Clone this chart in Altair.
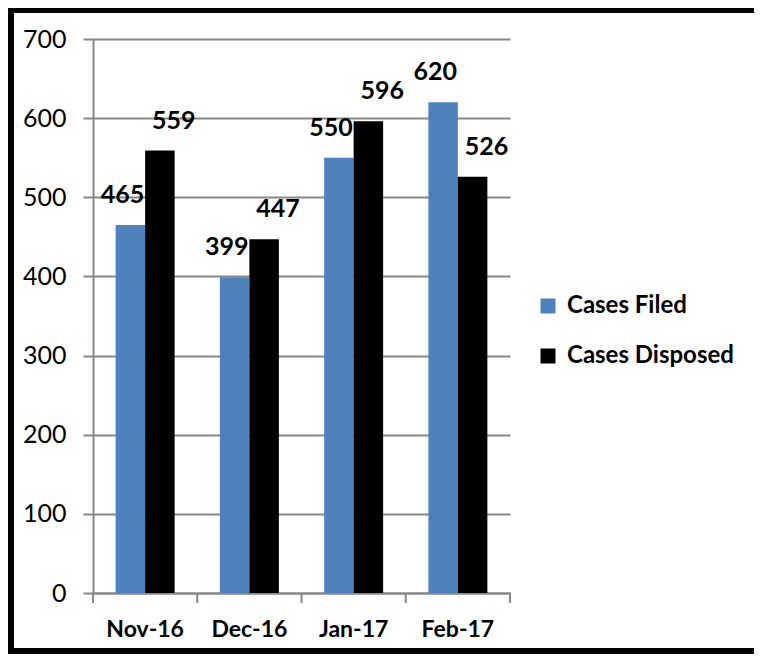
import altair as alt
import pandas as pd

months = ["Nov-16", "Dec-16", "Jan-17", "Feb-17"]
series = ["Cases Filed", "Cases Disposed"]
filed = [465, 399, 550, 620]
disposed = [559, 447, 596, 526]
y_ticks = [0, 100, 200, 300, 400, 500, 600, 700]
colors = ["#4F81BD", "#000000"]

rows = []
for m, f, d in zip(months, filed, disposed):
    rows.append({"month": m, "series": series[0], "value": f})
    rows.append({"month": m, "series": series[1], "value": d})
df = pd.DataFrame(rows)

W, H = 417, 554
GRAY = "#878787"
FONT = "Lato"

x_enc = alt.X("month:N", sort=months,
              scale=alt.Scale(paddingInner=0, paddingOuter=0),
              axis=alt.Axis(title=None, labelAngle=0, ticks=False, domainColor=GRAY,
                            domainWidth=2, labelFont=FONT, labelFontSize=23,
                            labelFontWeight="bold", labelColor="black", labelPadding=25))
y_enc = alt.Y("value:Q", scale=alt.Scale(domain=[0, 700], nice=False),
              axis=alt.Axis(title=None, values=y_ticks, grid=True, gridColor=GRAY, gridWidth=2,
                            domainColor=GRAY, domainWidth=2, tickColor=GRAY, tickWidth=2,
                            tickSize=10, labelFont=FONT, labelFontSize=25, labelColor="black",
                            labelPadding=17))
xoff = alt.XOffset("series:N", sort=series, scale=alt.Scale(paddingOuter=0.767, paddingInner=0))

base = alt.Chart(df)

bars = base.mark_bar().encode(
    x=x_enc,
    y=y_enc,
    xOffset=xoff,
    color=alt.Color("series:N", sort=series,
                    scale=alt.Scale(domain=series, range=colors),
                    legend=alt.Legend(title=None, orient="none", legendX=443, legendY=255,
                                      symbolType="square", symbolSize=225, symbolStrokeWidth=0,
                                      labelFont=FONT, labelFontSize=24, labelFontWeight="bold",
                                      labelColor="black", rowPadding=26, labelOffset=7,
                                      labelLimit=400)),
)

def labels(name, dx):
    return base.transform_filter(alt.datum.series == name).mark_text(
        font=FONT, fontSize=25, fontWeight="bold", color="black",
        baseline="alphabetic", dy=-22, dx=dx,
    ).encode(
        x=alt.X("month:N", sort=months),
        xOffset=alt.XOffset("series:N", sort=series),
        y="value:Q",
        text="value:Q",
    )

lab_filed = labels(series[0], -8)
lab_disp = labels(series[1], 14)

tick_data = pd.DataFrame({"month": months})
xticks = alt.Chart(tick_data).mark_rule(color=GRAY, strokeWidth=2).encode(
    x=alt.X("month:N", sort=months, bandPosition=0),
    y=alt.value(H),
    y2=alt.value(H + 10),
)
last_tick = alt.Chart(alt.Data(values=[{}])).mark_rule(color=GRAY, strokeWidth=2).encode(
    x=alt.value(W), y=alt.value(H), y2=alt.value(H + 10)
)
frame = alt.Chart(alt.Data(values=[{}])).mark_rect(
    fillOpacity=0, stroke="black", strokeWidth=6
).encode(
    x=alt.value(-82), x2=alt.value(800), y=alt.value(-29), y2=alt.value(612)
)

chart = alt.layer(bars, lab_filed, lab_disp, xticks, last_tick, frame).resolve_scale(
    x="shared"
).properties(
    width=W, height=H,
    autosize=alt.AutoSizeParams(type="none"),
    padding={"left": 85, "top": 31, "right": 244, "bottom": 61},
    background="white",
).configure_view(strokeWidth=0)

chart.save("out.html", embed_options={"renderer": "svg", "actions": False})
